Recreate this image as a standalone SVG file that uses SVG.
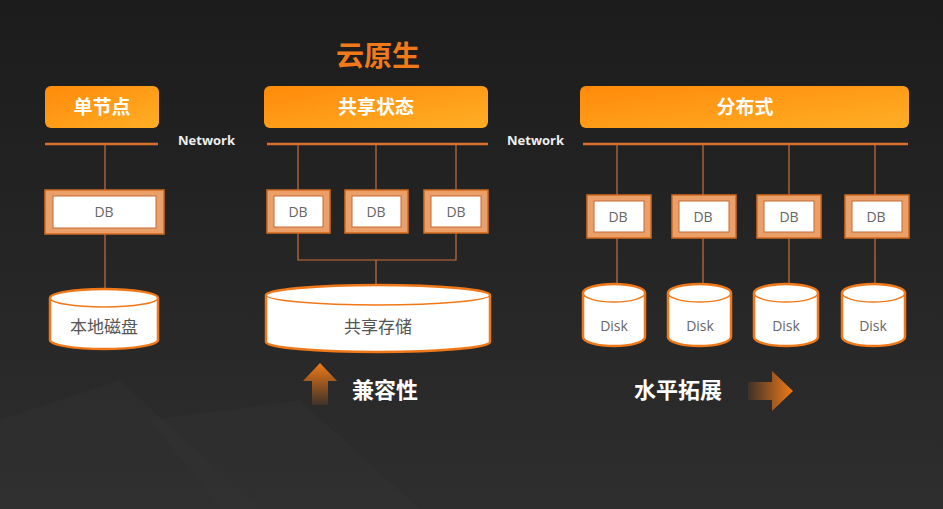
<svg xmlns="http://www.w3.org/2000/svg" width="943" height="509" viewBox="0 0 943 509">
<defs>
<linearGradient id="bg" x1="0" y1="0" x2="0" y2="1"><stop offset="0" stop-color="#1c1c1c"/><stop offset="1" stop-color="#2e2e2e"/></linearGradient>
<linearGradient id="hdr" x1="0" y1="0" x2="1" y2="1"><stop offset="0" stop-color="#ff8a0a"/><stop offset="1" stop-color="#ffae25"/></linearGradient>
<linearGradient id="up" x1="0" y1="0" x2="0" y2="1"><stop offset="0" stop-color="#f07a18"/><stop offset="1" stop-color="#f07a18" stop-opacity="0.1"/></linearGradient>
<linearGradient id="rt" x1="0" y1="0" x2="1" y2="0"><stop offset="0" stop-color="#f07a18" stop-opacity="0.1"/><stop offset="1" stop-color="#f07a18"/></linearGradient>
<style>
.hdr{fill:url(#hdr)}
.ht{font-family:"Noto Sans CJK SC",sans-serif;font-weight:bold;font-size:19px;fill:#fff;text-anchor:middle}
.net{stroke:#d9702e;stroke-width:2.5}
.ln{stroke:#c8703a;stroke-width:1.2;fill:none}
.nt{font-family:"Open Sans","Noto Sans",sans-serif;font-weight:bold;font-size:13px;fill:#eee}
.dbo{fill:#eba06a;stroke:#d2691e;stroke-width:1.5}
.dbi{fill:#fff;stroke:#c46a34;stroke-width:1}
.dbt{font-family:"Open Sans","Noto Sans",sans-serif;font-size:14px;fill:#666;text-anchor:middle}
.cyl{fill:#fff;stroke:#f07818;stroke-width:2.5}
.cyt{fill:none;stroke:#f07818;stroke-width:1.5}
.ct{font-family:"Noto Sans CJK SC",sans-serif;font-size:17px;fill:#555;text-anchor:middle}
.bt{font-family:"Noto Sans CJK SC",sans-serif;font-weight:bold;font-size:22px;fill:#fff}
</style>
</defs>
<rect width="943" height="509" fill="url(#bg)"/>
<polygon points="0,420 120,380 260,509 0,509" fill="#353535" opacity="0.35"/>
<polygon points="150,420 300,400 420,509 220,509" fill="#333" opacity="0.35"/>
<text x="378" y="66" font-family="Noto Sans CJK SC,sans-serif" font-weight="bold" font-size="28" fill="#f07a1a" text-anchor="middle">云原生</text>

<g id="h1"><rect class="hdr" x="45" y="86" width="114" height="42" rx="6"/><text class="ht" x="102" y="114">单节点</text></g>
<g id="h2"><rect class="hdr" x="264" y="86" width="224" height="42" rx="6"/><text class="ht" x="376" y="114">共享状态</text></g>
<g id="h3"><rect class="hdr" x="580" y="86" width="329" height="42" rx="6"/><text class="ht" x="745" y="114">分布式</text></g>
<text class="nt" x="178" y="145">Network</text>
<text class="nt" x="507" y="145">Network</text>

<g id="connectors">
<line class="net" x1="45" y1="144" x2="158" y2="144"/>
<line class="net" x1="267" y1="144" x2="488" y2="144"/>
<line class="net" x1="583" y1="144" x2="908" y2="144"/>
<path class="ln" d="M105 144V190M105 234V290"/>
<path class="ln" d="M298 144V190M376 144V190M456 144V190M298 233V260H456V233M376 260V287"/>
<path class="ln" d="M617 144V195M703 144V195M789 144V195M875 144V195M617 238V284M703 238V284M789 238V284M875 238V284"/>
</g>

<g id="db0"><rect class="dbo" x="45" y="190" width="119" height="44"/><rect class="dbi" x="53" y="196" width="103" height="32"/><text class="dbt" x="104" y="217">DB</text></g>
<g id="db1"><rect class="dbo" x="267" y="190" width="63" height="43"/><rect class="dbi" x="274" y="196" width="49" height="31"/><text class="dbt" x="298" y="217">DB</text></g>
<g id="db2"><rect class="dbo" x="345" y="190" width="63" height="43"/><rect class="dbi" x="352" y="196" width="49" height="31"/><text class="dbt" x="376" y="217">DB</text></g>
<g id="db3"><rect class="dbo" x="424" y="190" width="64" height="43"/><rect class="dbi" x="431" y="196" width="50" height="31"/><text class="dbt" x="456" y="217">DB</text></g>
<g id="db4"><rect class="dbo" x="587" y="195" width="64" height="43"/><rect class="dbi" x="594" y="201" width="50" height="31"/><text class="dbt" x="618" y="222">DB</text></g>
<g id="db5"><rect class="dbo" x="672" y="195" width="64" height="43"/><rect class="dbi" x="679" y="201" width="50" height="31"/><text class="dbt" x="703" y="222">DB</text></g>
<g id="db6"><rect class="dbo" x="757" y="195" width="64" height="43"/><rect class="dbi" x="764" y="201" width="50" height="31"/><text class="dbt" x="789" y="222">DB</text></g>
<g id="db7"><rect class="dbo" x="845" y="195" width="64" height="43"/><rect class="dbi" x="852" y="201" width="50" height="31"/><text class="dbt" x="876" y="222">DB</text></g>

<g id="s0"><path class="cyl" d="M50 298A54 9 0 0 1 158 298V340A54 9 0 0 1 50 340Z"/><path class="cyt" d="M50 298A54 9 0 0 0 158 298"/><text class="ct" x="104" y="333">本地磁盘</text></g>
<g id="s1"><path class="cyl" d="M266 295A112 10 0 0 1 490 295V342A112 10 0 0 1 266 342Z"/><path class="cyt" d="M266 295A112 10 0 0 0 490 295"/><text class="ct" x="378" y="333">共享存储</text></g>
<g id="k0"><path class="cyl" d="M583 293A31 9 0 0 1 645 293V337A31 9 0 0 1 583 337Z"/><path class="cyt" d="M583 293A31 9 0 0 0 645 293"/><text class="dbt" x="614" y="331">Disk</text></g>
<g id="k1"><path class="cyl" d="M668 293A31.5 9 0 0 1 731 293V337A31.5 9 0 0 1 668 337Z"/><path class="cyt" d="M668 293A31.5 9 0 0 0 731 293"/><text class="dbt" x="700" y="331">Disk</text></g>
<g id="k2"><path class="cyl" d="M754 293A32 9 0 0 1 818 293V337A32 9 0 0 1 754 337Z"/><path class="cyt" d="M754 293A32 9 0 0 0 818 293"/><text class="dbt" x="786" y="331">Disk</text></g>
<g id="k3"><path class="cyl" d="M842 293A31.5 9 0 0 1 905 293V337A31.5 9 0 0 1 842 337Z"/><path class="cyt" d="M842 293A31.5 9 0 0 0 905 293"/><text class="dbt" x="873" y="331">Disk</text></g>

<polygon points="320,363 337,381 328,381 328,405 312,405 312,381 303,381" fill="url(#up)"/>
<text class="bt" x="352" y="398">兼容性</text>
<text class="bt" x="634" y="398">水平拓展</text>
<polygon points="748,382 772,382 772,371 793,391 772,411 772,400 748,400" fill="url(#rt)"/>
</svg>
